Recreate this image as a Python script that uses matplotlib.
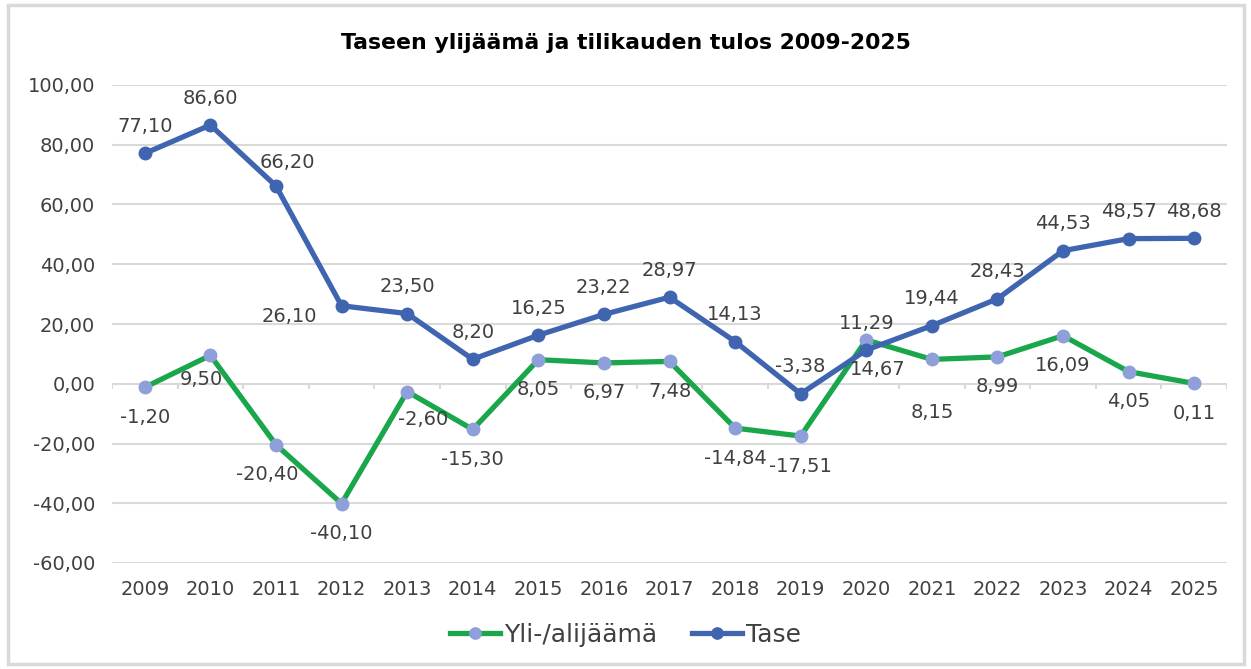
import numpy as np
import matplotlib
matplotlib.use("Agg")
import matplotlib.pyplot as plt
from matplotlib.patches import Rectangle

years = ["2009", "2010", "2011", "2012", "2013", "2014", "2015", "2016", "2017",
         "2018", "2019", "2020", "2021", "2022", "2023", "2024", "2025"]
yli = [-1.20, 9.50, -20.40, -40.10, -2.60, -15.30, 8.05, 6.97, 7.48,
       -14.84, -17.51, 14.67, 8.15, 8.99, 16.09, 4.05, 0.11]
tase = [77.10, 86.60, 66.20, 26.10, 23.50, 8.20, 16.25, 23.22, 28.97,
        14.13, -3.38, 11.29, 19.44, 28.43, 44.53, 48.57, 48.68]
y_ticks = [-60, -40, -20, 0, 20, 40, 60, 80, 100]

# label offsets in pixels (dx, dy), mimicking the hand placed excel labels
tase_off = [(0, 27)] * len(tase)
tase_off[2] = (11, 23)
tase_off[3] = (-52, -11)
yli_off = [(0, -30)] * len(yli)
yli_off[1] = (-9, -24)
yli_off[2] = (-9, -30)
yli_off[4] = (16, -28)
yli_off[11] = (11, -30)
yli_off[12] = (0, -53)

GREEN = "#1aa64a"
LAV = "#8e9fd9"
BLUE = "#4065b0"
GRID = "#d9d9d9"
TXT = "#404040"


def fmt(v):
    return f"{v:.2f}".replace(".", ",")


fig = plt.figure(figsize=(12.51, 6.69), dpi=100)
ax = fig.add_axes([112 / 1251, 1 - 563 / 669, (1227 - 112) / 1251, (563 - 85) / 669])

x = np.arange(len(years))
ax.set_xlim(-0.5, len(years) - 0.5)
ax.set_ylim(-60, 100)

for yv in y_ticks:
    ax.axhline(yv, color=GRID, lw=1.5, zorder=0)
# small tick marks on the zero line between categories
ax.vlines(np.arange(-0.5, len(years)), -1.7, 0, color=GRID, lw=1.5, zorder=0)

ax.plot(x, yli, color=GREEN, lw=3.8, marker="o", ms=9, mfc=LAV, mec=LAV,
        label="Yli-/alijäämä", zorder=3)
ax.plot(x, tase, color=BLUE, lw=3.8, marker="o", ms=9, mfc=BLUE, mec=BLUE,
        label="Tase", zorder=4)

for i in range(len(years)):
    dx, dy = tase_off[i]
    ax.annotate(fmt(tase[i]), (x[i], tase[i]), xytext=(dx, dy), textcoords="offset pixels",
                ha="center", va="center", fontsize=14, color=TXT, zorder=5)
    dx, dy = yli_off[i]
    ax.annotate(fmt(yli[i]), (x[i], yli[i]), xytext=(dx, dy), textcoords="offset pixels",
                ha="center", va="center", fontsize=14, color=TXT, zorder=5)

ax.set_xticks(x)
ax.set_xticklabels(years)
ax.set_yticks(y_ticks)
ax.set_yticklabels([fmt(v) for v in y_ticks])
ax.tick_params(axis="both", length=0, labelsize=14, labelcolor=TXT)
ax.tick_params(axis="x", pad=12)
ax.tick_params(axis="y", pad=12)
for s in ax.spines.values():
    s.set_visible(False)

fig.text(0.5, 1 - 43 / 669, "Taseen ylijäämä ja tilikauden tulos 2009-2025",
         ha="center", va="center", fontsize=15.8, fontweight="bold", color="black")

leg = fig.legend(loc="center", bbox_to_anchor=(0.5, 1 - 635 / 669), ncol=2, frameon=False,
                 fontsize=18, handlelength=2.0, handletextpad=0.15, columnspacing=1.4,
                 labelcolor=TXT, markerscale=0.9)

fig.patches.append(Rectangle((8 / 1251, 5 / 669), 1236 / 1251, 659 / 669,
                             transform=fig.transFigure, fill=False, ec=GRID, lw=2.5))

fig.savefig("out.png", dpi=100)
